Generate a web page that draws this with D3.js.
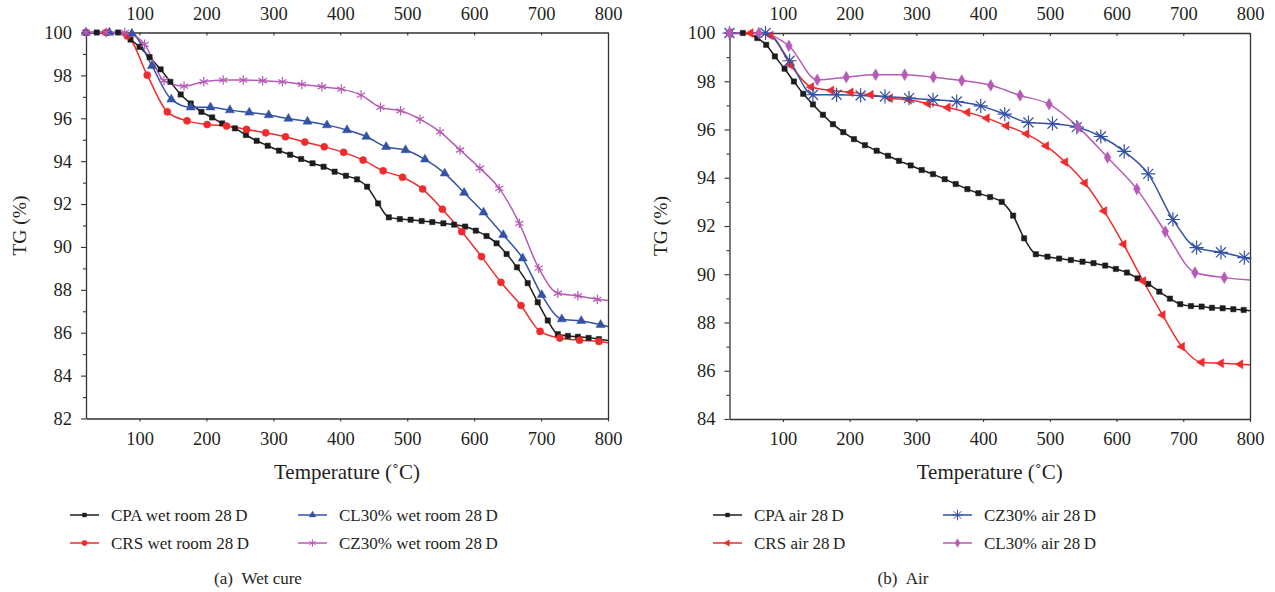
<!DOCTYPE html>
<html>
<head>
<meta charset="utf-8">
<script src="https://cdn.jsdelivr.net/npm/d3@7"></script>
<style>
  html, body { margin: 0; padding: 0; background: #fff; }
  svg { display: block; }
  text { font-family: "Liberation Serif", "DejaVu Serif", serif; fill: #231f20; }
</style>
</head>
<body>
<svg id="chart" width="1275" height="592"></svg>
<script>
// ---------- DATA (temperature °C, TG %) ----------
const xTicks = [100, 200, 300, 400, 500, 600, 700, 800];
const yTicksWet = [82, 84, 86, 88, 90, 92, 94, 96, 98, 100];
const yTicksAir = [84, 86, 88, 90, 92, 94, 96, 98, 100];

// (a) Wet cure
const wetCPA = [[20,100],[36,100],[52,100],[68,100],[86.5,99.67],[100,99.33],[115,98.85],[131.5,98.28],[146,97.70],[161.5,97.11],[176.5,96.69],[192.5,96.30],[208.5,96.04],[223.5,95.76],[242.5,95.53],[259,95.22],[275,94.95],[291.5,94.72],[308.5,94.49],[325,94.30],[341.5,94.10],[358.5,93.90],[375,93.74],[391.5,93.51],[408.5,93.32],[425,93.15],[440,92.81],[456.5,92.03],[472.5,91.38],[489,91.30],[505,91.27],[521.5,91.21],[537.5,91.16],[554,91.10],[570,91.04],[586.5,90.95],[602.5,90.76],[618.5,90.51],[633.5,90.17],[648.5,89.67],[664,89.05],[680,88.31],[695,87.42],[710,86.57],[725,85.93],[740,85.85],[755,85.81],[771,85.76],[786.5,85.70],[800,85.64]];
const wetCRS = [[20,100],[50,100],[81.5,99.84],[111.5,98.01],[141.5,96.30],[171,95.88],[201,95.71],[230,95.64],[260,95.48],[288.5,95.32],[318,95.14],[347,94.89],[376,94.67],[405,94.41],[434,94.05],[464,93.55],[493,93.25],[523,92.70],[552.5,91.76],[581.5,90.71],[611,89.55],[640,88.35],[670,87.27],[698.5,86.06],[728,85.75],[757.5,85.65],[786.5,85.59],[800,85.53]];
const wetCL30 = [[20,100],[55,100],[88.5,99.95],[118.5,98.44],[147.5,96.88],[176.5,96.51],[206,96.51],[235,96.38],[264,96.27],[293,96.15],[322.5,95.98],[351,95.85],[380,95.68],[410,95.45],[439,95.14],[468.5,94.67],[497.5,94.52],[526.5,94.08],[556,93.43],[585,92.53],[614,91.61],[643.5,90.56],[672.5,89.47],[701,87.76],[731,86.63],[760,86.55],[789,86.37],[800,86.29]];
const wetCZ30 = [[20,100],[50,100],[78,100],[107.5,99.45],[136.5,97.75],[166.5,97.50],[196,97.70],[225,97.78],[255,97.78],[284,97.75],[313.5,97.70],[342.5,97.58],[372.5,97.47],[401.5,97.36],[431,97.08],[460,96.51],[490,96.35],[519,95.96],[549,95.37],[579,94.52],[608.5,93.67],[637.5,92.73],[667.5,91.10],[696.5,89.01],[725,87.84],[755,87.72],[784,87.56],[800,87.50]];

// (b) Air
const airCPA = [[20,100],[40,100],[61.6,99.79],[75,99.51],[88,99.03],[102.5,98.52],[116.5,97.99],[130.5,97.48],[145,97.04],[160,96.61],[175,96.22],[190.5,95.89],[206.5,95.60],[223,95.35],[240.5,95.12],[257.5,94.91],[274,94.70],[291.5,94.51],[308,94.32],[325,94.15],[342.5,93.94],[359,93.74],[376.5,93.53],[393,93.36],[410.5,93.20],[428,93.00],[445,92.43],[461.5,91.49],[479,90.83],[496.5,90.73],[514,90.65],[531.5,90.59],[549,90.52],[565.5,90.46],[583,90.36],[599,90.22],[615.5,90.07],[631.5,89.83],[647.5,89.60],[664,89.28],[680,88.99],[695.5,88.76],[711.5,88.68],[727.5,88.66],[743,88.61],[759,88.59],[775,88.55],[790.5,88.52],[800,88.49]];
const airCRS = [[20,100],[51.5,100],[81.5,99.90],[111.5,98.68],[142.5,97.76],[172.5,97.62],[201.5,97.54],[231.5,97.44],[260.5,97.30],[289,97.23],[317.5,97.07],[347,96.91],[376.5,96.71],[405.5,96.47],[435,96.15],[465,95.82],[494.5,95.32],[523,94.65],[552.5,93.78],[581.5,92.62],[610.5,91.24],[640,89.72],[669,88.31],[698,87.00],[727.5,86.35],[756.5,86.31],[785.5,86.27],[800,86.24]];
const airCZ30 = [[20,100],[74,100],[110,98.85],[145,97.44],[180.5,97.44],[216.5,97.41],[253,97.37],[289,97.30],[325,97.23],[360.5,97.16],[396.5,96.98],[432.5,96.64],[468,96.29],[504,96.24],[540.5,96.10],[576.5,95.71],[611.5,95.09],[647.5,94.16],[684.5,92.27],[720,91.10],[756.5,90.91],[791.5,90.69],[800,90.63]];
const airCL30 = [[20,100],[64,100],[109,99.47],[151.5,98.06],[195,98.17],[239,98.27],[282.5,98.27],[325.5,98.17],[368,98.03],[411.5,97.83],[455.5,97.41],[499,97.05],[542.5,96.10],[586.5,94.84],[630.5,93.53],[673,91.77],[717.5,90.07],[761.5,89.86],[800,89.76]];

const wetLabels = ["CPA wet room 28\u2009D", "CRS wet room 28\u2009D", "CL30% wet room 28\u2009D", "CZ30% wet room 28\u2009D"];
const airLabels = ["CPA air 28\u2009D", "CRS air 28\u2009D", "CZ30% air 28\u2009D", "CL30% air 28\u2009D"];

// ---------- STYLE ----------
const C_BLACK = "#1c1c1c", C_RED = "#ef2b2d", C_BLUE = "#3452a4", C_MAG = "#b65bb5";

// custom symbols
const asterisk6 = { draw(ctx, size) { const r = Math.sqrt(size) * 0.75;
  for (let k = 0; k < 3; k++) { const a = Math.PI / 2 + k * Math.PI / 3; const dx = r * Math.cos(a), dy = r * Math.sin(a);
    ctx.moveTo(-dx, -dy); ctx.lineTo(dx, dy); } } };
const asterisk8 = { draw(ctx, size) { const r = Math.sqrt(size) * 0.75;
  for (let k = 0; k < 4; k++) { const a = k * Math.PI / 4; const dx = r * Math.cos(a), dy = r * Math.sin(a);
    ctx.moveTo(-dx, -dy); ctx.lineTo(dx, dy); } } };

const svg = d3.select("#chart");

function panel(cfg) {
  const g = svg.append("g");
  const x = d3.scaleLinear().domain([20, 800]).range([cfg.x0, cfg.x1]);
  const y = d3.scaleLinear().domain(cfg.yDomain).range([cfg.y1, cfg.y0]);

  const styleAxis = sel => {
    sel.selectAll("path.domain").attr("stroke", "#333").attr("stroke-width", 1.3);
    sel.selectAll(".tick line").attr("stroke", "#333").attr("stroke-width", 1.1);
    sel.selectAll(".tick text").style("font-family", '"Liberation Serif", serif').style("font-size", "18.5px").attr("fill", "#231f20");
  };

  // bottom axis
  g.append("g").attr("transform", `translate(0,${cfg.y1})`)
    .call(d3.axisBottom(x).tickValues(xTicks).tickSize(3).tickSizeOuter(0).tickPadding(10).tickFormat(d3.format("d")))
    .call(styleAxis);
  // top axis
  g.append("g").attr("transform", `translate(0,${cfg.y0})`)
    .call(d3.axisTop(x).tickValues(xTicks).tickSize(-3).tickSizeOuter(0).tickPadding(8).tickFormat(d3.format("d")))
    .call(styleAxis)
    .selectAll(".tick text").attr("y", -13);
  // left axis majors
  g.append("g").attr("transform", `translate(${cfg.x0},0)`)
    .call(d3.axisLeft(y).tickValues(cfg.yTicks).tickSize(5).tickSizeOuter(0).tickPadding(9).tickFormat(d3.format("d")))
    .call(styleAxis);
  // left axis minors
  const minors = d3.range(cfg.yDomain[0] + 1, cfg.yDomain[1], 2);
  g.append("g").attr("transform", `translate(${cfg.x0},0)`)
    .call(d3.axisLeft(y).tickValues(minors).tickSize(3).tickSizeOuter(0).tickFormat(""))
    .call(styleAxis)
    .select("path.domain").remove();
  // right axis line
  g.append("g").attr("transform", `translate(${cfg.x1},0)`)
    .call(d3.axisRight(y).tickValues([]).tickSizeOuter(0))
    .call(styleAxis);

  // titles
  g.append("text").attr("transform", `translate(${cfg.yTitleX},${(cfg.y0 + cfg.y1) / 2}) rotate(-90)`)
    .attr("text-anchor", "middle").style("font-size", "19.5px").text("TG (%)");
  g.append("text").attr("x", (cfg.x0 + cfg.x1) / 2).attr("y", cfg.y1 + 60)
    .attr("text-anchor", "middle").style("font-size", "21px").text("Temperature (\u02DAC)");

  // series
  const line = d3.line().x(d => x(d[0])).y(d => y(d[1])).curve(d3.curveMonotoneX);
  cfg.series.forEach(s => {
    g.append("path").datum(s.data).attr("fill", "none").attr("stroke", s.color)
      .attr("stroke-width", 1.5).attr("d", line);
  });
  cfg.series.forEach(s => {
    const sym = d3.symbol().type(s.symbol).size(s.size);
    g.append("g").selectAll("path").data(s.data.slice(0, -1)).join("path")
      .attr("transform", d => `translate(${x(d[0])},${y(d[1])}) rotate(${s.rot || 0})`)
      .attr("d", sym)
      .attr("fill", s.stroked ? "none" : s.color)
      .attr("stroke", s.color).attr("stroke-width", s.stroked ? 1.2 : 0.5);
  });

  // legend
  cfg.series.forEach((s, i) => {
    const col = cfg.legendOrder[i][0], row = cfg.legendOrder[i][1];
    const lx = cfg.legendX[col], ly = cfg.legendY[row];
    g.append("line").attr("x1", lx).attr("x2", lx + 29).attr("y1", ly).attr("y2", ly)
      .attr("stroke", s.color).attr("stroke-width", 1.5);
    g.append("path").attr("transform", `translate(${lx + 14.5},${ly}) rotate(${s.rot || 0})`)
      .attr("d", d3.symbol().type(s.symbol).size(s.size * 0.55))
      .attr("fill", s.stroked ? "none" : s.color).attr("stroke", s.color).attr("stroke-width", s.stroked ? 1 : 0.4);
    g.append("text").attr("x", lx + 41).attr("y", ly + 6).style("font-size", "17px").text(s.label);
  });

  g.append("text").attr("x", cfg.captionX).attr("y", 584).attr("text-anchor", "middle")
    .style("font-size", "17px").text(cfg.caption);
}

panel({
  x0: 86, x1: 608, y0: 32.5, y1: 418.5, yDomain: [82, 100], yTicks: yTicksWet, yTitleX: 26,
  legendX: [70, 298], legendY: [515, 543], captionX: 258, caption: "(a)\u2002Wet cure",
  legendOrder: [[0, 0], [0, 1], [1, 0], [1, 1]],
  series: [
    { data: wetCPA, color: C_BLACK, symbol: d3.symbolSquare, size: 28, label: wetLabels[0] },
    { data: wetCRS, color: C_RED, symbol: d3.symbolCircle, size: 40, label: wetLabels[1] },
    { data: wetCL30, color: C_BLUE, symbol: d3.symbolTriangle, size: 36, label: wetLabels[2] },
    { data: wetCZ30, color: C_MAG, symbol: asterisk6, size: 40, stroked: true, label: wetLabels[3] }
  ]
});

panel({
  x0: 729.5, x1: 1250, y0: 33, y1: 419, yDomain: [84, 100], yTicks: yTicksAir, yTitleX: 667,
  legendX: [713, 943], legendY: [515, 543], captionX: 903, caption: "(b)\u2002Air",
  legendOrder: [[0, 0], [0, 1], [1, 0], [1, 1]],
  series: [
    { data: airCPA, color: C_BLACK, symbol: d3.symbolSquare, size: 28, label: airLabels[0] },
    { data: airCRS, color: C_RED, symbol: d3.symbolTriangle, size: 34, rot: -90, label: airLabels[1] },
    { data: airCZ30, color: C_BLUE, symbol: asterisk8, size: 90, stroked: true, label: airLabels[2] },
    { data: airCL30, color: C_MAG, symbol: d3.symbolDiamond, size: 40, label: airLabels[3] }
  ]
});
</script>
</body>
</html>
